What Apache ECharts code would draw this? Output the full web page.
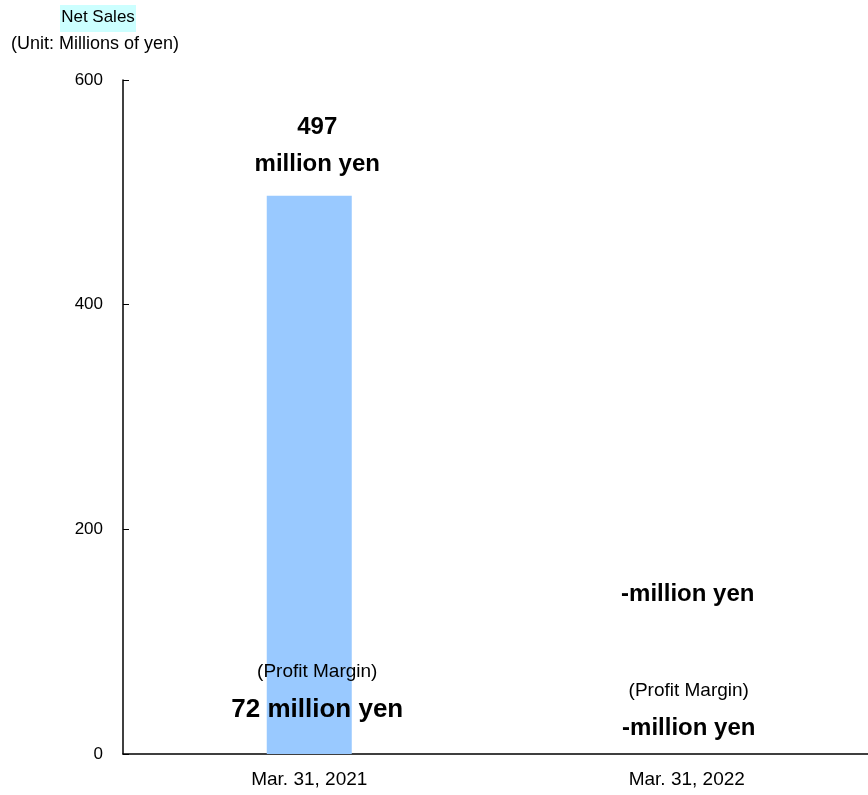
<!DOCTYPE html>
<html>
<head>
<meta charset="utf-8">
<script src="https://cdn.jsdelivr.net/npm/echarts@6/dist/echarts.min.js"></script>
<style>html,body{margin:0;padding:0;background:#fff}#c{width:868px;height:795px}</style>
</head>
<body>
<div id="c"></div>
<script>
var categories = ['Mar. 31, 2021', 'Mar. 31, 2022'];
var netSales = [497, null];
var profit = [72, null];
var yTicks = [0, 200, 400, 600];

var FONT = '"Liberation Sans Narrow", "Arial Narrow", "Liberation Sans", sans-serif';
var chart = echarts.init(document.getElementById('c'));

function fmt(v) { return v == null ? '-' : String(v); }

var salesMissingMarks = [];
var profitMarks = [];
categories.forEach(function (c, i) {
  if (netSales[i] == null) {
    salesMissingMarks.push({
      coord: [c, 142],
      label: { offset: [6, 0], formatter: '{b|-million yen}' }
    });
  }
  var big = profit[i] != null;
  profitMarks.push({
    coord: [c, big ? 56 : 40],
    label: {
      offset: big ? [8, 0] : [7, 0],
      formatter: '{s|(Profit Margin)}\n' + (big ? '{bb|' + fmt(profit[i]) + ' million yen}' : '{b|' + fmt(profit[i]) + 'million yen}')
    }
  });
});

var richStyles = {
  s: { fontFamily: FONT, fontSize: 19, color: '#000', lineHeight: 38 },
  b: { fontFamily: FONT, fontSize: 24, fontWeight: 'bold', color: '#000', lineHeight: 37 },
  bb: { fontFamily: FONT, fontSize: 26, fontWeight: 'bold', color: '#000', lineHeight: 38 }
};

chart.setOption({
  animation: false,
  textStyle: { fontFamily: FONT },
  grid: { left: 123, right: 0, top: 80, bottom: 41, containLabel: false },
  graphic: [
    { type: 'rect', left: 60, top: 5, shape: { width: 76, height: 27 }, style: { fill: '#ccffff' }, silent: true },
    { type: 'text', style: { text: 'Net Sales', fontFamily: FONT, fontSize: 17, fill: '#000', x: 98, y: 9, textAlign: 'center' } },
    { type: 'text', style: { text: '(Unit: Millions of yen)', fontFamily: FONT, fontSize: 18, fill: '#000', x: 95, y: 35, textAlign: 'center' } }
  ],
  xAxis: {
    type: 'category',
    data: categories,
    axisLine: { lineStyle: { color: '#000', width: 1.5 } },
    axisTick: { show: false },
    axisLabel: {
      color: '#000', fontSize: 19, fontFamily: FONT, margin: 16,
      formatter: function (v, i) { return i === 1 ? '{r|' + v + '}' : v; },
      rich: { r: { fontSize: 19, fontFamily: FONT, color: '#000', padding: [0, 0, 0, 10] } }
    }
  },
  yAxis: {
    type: 'value',
    min: yTicks[0], max: yTicks[yTicks.length - 1], interval: 200,
    axisLine: { show: true, lineStyle: { color: '#000', width: 1.5 } },
    axisTick: { show: true, inside: true, length: 6, lineStyle: { color: '#000' } },
    splitLine: { show: false },
    axisLabel: { color: '#000', fontSize: 17, fontFamily: FONT, margin: 20 }
  },
  series: [{
    type: 'bar',
    data: netSales.map(function (v) { return v == null ? '-' : v; }),
    barWidth: 85,
    itemStyle: { color: '#99c9ff' },
    label: {
      show: true,
      position: 'top',
      distance: 13,
      offset: [8, 0],
      formatter: function (p) { return '{b|' + p.value + '}\n{b|million yen}'; },
      rich: richStyles
    },
    markPoint: {
      symbol: 'circle', symbolSize: 0, silent: true,
      label: { show: true, position: 'inside', rich: richStyles },
      data: salesMissingMarks.concat(profitMarks)
    }
  }]
});
</script>
</body>
</html>
